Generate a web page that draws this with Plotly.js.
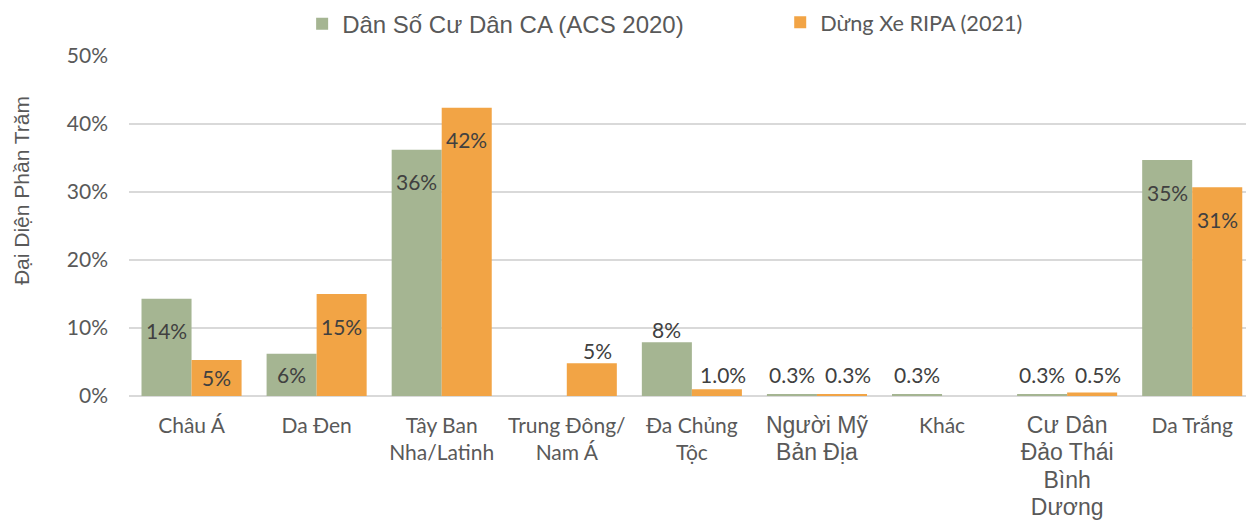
<!DOCTYPE html>
<html>
<head>
<meta charset="utf-8">
<script src="https://cdn.plot.ly/plotly-3.0.1.min.js"></script>
<style>body{margin:0;} #chart{width:1246px;height:521px;}</style>
</head>
<body>
<div id="chart"></div>
<script>
// categories (tick labels, with line breaks as in the picture)
var categories = ['Châu Á', 'Da Đen', 'Tây Ban<br>Nha/Latinh', 'Trung Đông/<br>Nam Á', 'Đa Chủng<br>Tộc',
  'Người Mỹ<br>Bản Địa', 'Khác', 'Cư Dân<br>Đảo Thái<br>Bình<br>Dương', 'Da Trắng'];

// percent values (null = no bar)
var acsValues  = [14.3, 6.2, 36.2, null, 7.9, 0.3, 0.3, 0.3, 34.7];
var ripaValues = [5.3, 15.0, 42.4, 4.8, 1.0, 0.3, null, 0.5, 30.7];

// data labels
var acsLabels  = ['14%', '6%', '36%', '', '8%', '0.3%', '0.3%', '0.3%', '35%'];
var ripaLabels = ['5%', '15%', '42%', '5%', '1.0%', '0.3%', '', '0.5%', '31%'];

var acsName = 'Dân Số Cư Dân CA (ACS 2020)';
var ripaName = 'Dừng Xe RIPA (2021)';

var green = '#A5B592';
var orange = '#F2A445';
var pxPerPct = 340 / 50;

// where each label goes: inside the bar or above it
var acsLabelPos  = ['in', 'in', 'in', '', 'out', 'out', 'out', 'out', 'in'];
var ripaLabelPos = ['in', 'in', 'in', 'out', 'out', 'out', '', 'out', 'in'];

var annotations = [];
function addLabels(vals, labels, pos, shiftX, shiftOut) {
  for (var i = 0; i < vals.length; i++) {
    if (vals[i] === null || labels[i] === '') continue;
    var h = vals[i] * pxPerPct;
    var inside = pos[i] === 'in';
    annotations.push({
      x: i, y: vals[i], xref: 'x', yref: 'y',
      text: labels[i], showarrow: false,
      xshift: inside ? shiftX : shiftOut,
      yshift: inside ? -Math.min(32, h / 2) : Math.max(13, 22 - h),
      font: {family: 'Lato, sans-serif', size: 21, color: '#404040'}
    });
  }
}
addLabels(acsValues, acsLabels, acsLabelPos, -25, -25);
addLabels(ripaValues, ripaLabels, ripaLabelPos, 25, 31);

// y axis title, sits a bit above the middle of the axis
annotations.push({
  text: 'Đại Diện Phần Trăm', textangle: -90, showarrow: false,
  xref: 'paper', yref: 'paper', x: -0.096, y: 0.605, xanchor: 'center', yanchor: 'middle',
  font: {family: 'Liberation Sans, Arial, sans-serif', size: 21, color: '#595959'}
});

var idx = categories.map(function(c, i){ return i; });

// two of the category labels are set in a different, larger font in the original
var arialTicks = [5, 7];
var tickText = categories.map(function(c, i){
  if (arialTicks.indexOf(i) < 0) return c;
  return c.split('<br>').map(function(s){
    return '<span style="font-family:Liberation Sans;font-size:23px">' + s + '</span>';
  }).join('<br>');
});

var trace1 = {
  x: idx, y: acsValues, name: acsName, type: 'bar', legend: 'legend',
  marker: {color: green}, hoverinfo: 'none'
};
var trace2 = {
  x: idx, y: ripaValues, name: ripaName, type: 'bar', legend: 'legend2',
  marker: {color: orange}, hoverinfo: 'none'
};

var layout = {
  width: 1246, height: 521,
  margin: {l: 129, r: 0, t: 56, b: 125},
  barmode: 'group', bargap: 0.2, bargroupgap: 0,
  paper_bgcolor: '#ffffff', plot_bgcolor: '#ffffff',
  font: {family: 'Lato, sans-serif', color: '#595959', size: 21},
  showlegend: true,
  legend: {
    orientation: 'h', x: 0.155, xanchor: 'left', y: 1.16, yanchor: 'top',
    font: {family: 'Liberation Sans, Arial, sans-serif', size: 24, color: '#595959'}
  },
  legend2: {
    orientation: 'h', x: 0.583, xanchor: 'left', y: 1.16, yanchor: 'top',
    font: {family: 'Lato, sans-serif', size: 21.7, color: '#595959'}
  },
  xaxis: {
    range: [-0.5, 8.43],
    tickmode: 'array', tickvals: idx, ticktext: tickText,
    showgrid: false, zeroline: false, showline: false, ticks: '',
    ticklabelstandoff: 15,
    tickfont: {family: 'Lato, sans-serif', size: 21, color: '#595959'}
  },
  yaxis: {
    range: [0, 50], dtick: 10, ticksuffix: '%',
    gridcolor: '#D9D9D9', gridwidth: 2, zeroline: true, zerolinecolor: '#D9D9D9', zerolinewidth: 2,
    ticks: '', ticklabelstandoff: 20,
    tickfont: {family: 'Lato, sans-serif', size: 21, color: '#595959'}
  },
  annotations: annotations
};

Plotly.newPlot('chart', [trace1, trace2], layout, {displayModeBar: false, staticPlot: true});
</script>
</body>
</html>
